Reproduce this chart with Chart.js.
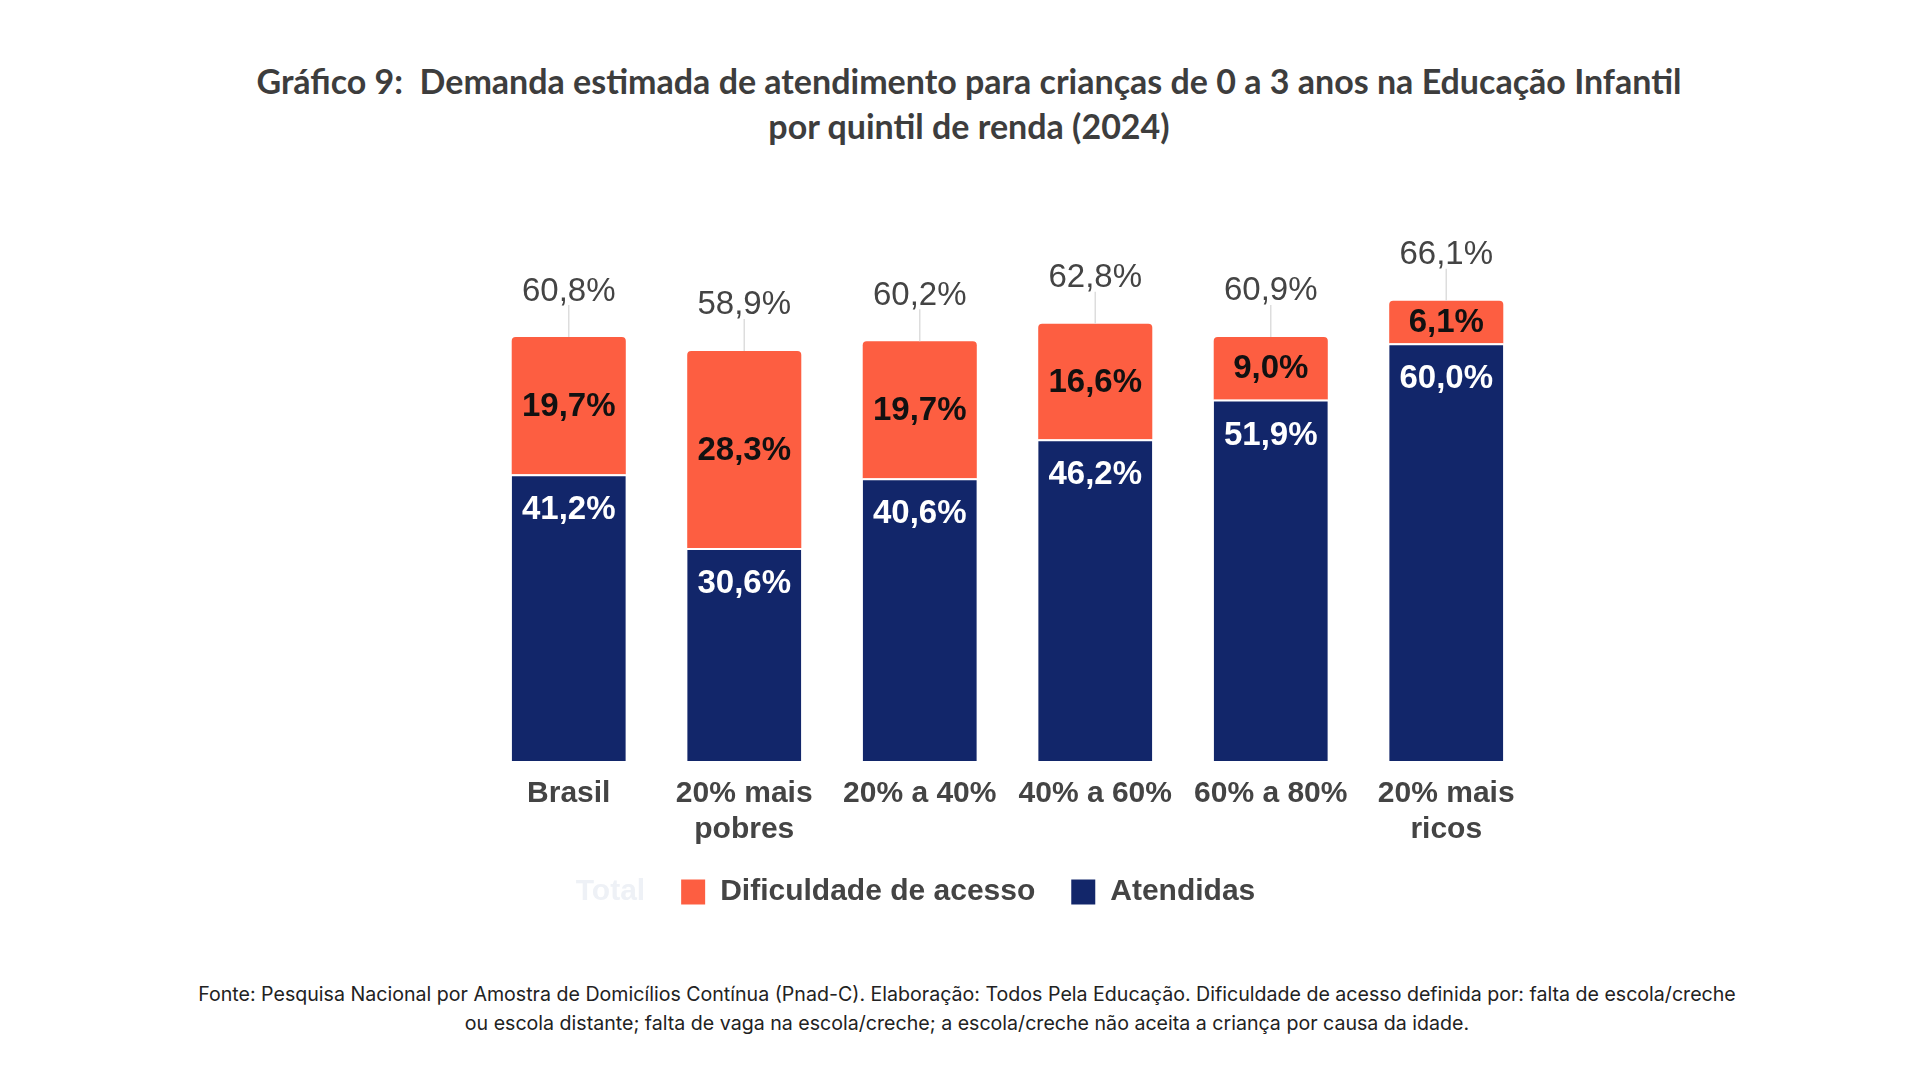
<!DOCTYPE html>
<html lang="pt-BR">
<head>
<meta charset="utf-8">
<title>Gráfico 9</title>
<script src="https://cdn.jsdelivr.net/npm/chart.js@4.4.1/dist/chart.umd.min.js"></script>
<style>
    html, body { margin: 0; padding: 0; background: #fff; }
    body { width: 1920px; height: 1080px; position: relative; overflow: hidden; }
    #titulo {
        position: absolute; left: 9px; top: 58px; width: 1920px;
        text-align: center; font-family: Lato, "Open Sans", sans-serif;
        font-weight: bold; font-size: 34px; line-height: 45px; color: #3d3d3d;
    }
    #caixa { position: absolute; left: 258px; top: 150px; width: 1276px; height: 781px; }
    #fonte {
        position: absolute; left: 7px; top: 980px; width: 1920px;
        text-align: center; font-family: Inter, "Open Sans", sans-serif;
        font-size: 19.6px; line-height: 29px; color: #222;
    }
</style>
</head>
<body>
<div id="titulo">Gráfico 9:&nbsp; Demanda estimada de atendimento para crianças de 0 a 3 anos na Educação Infantil<br>por quintil de renda (2024)</div>
<div id="caixa"><canvas id="grafico"></canvas></div>
<div id="fonte">Fonte: Pesquisa Nacional por Amostra de Domicílios Contínua (Pnad-C). Elaboração: Todos Pela Educação. Dificuldade de acesso definida por: falta de escola/creche<br>ou escola distante; falta de vaga na escola/creche; a escola/creche não aceita a criança por causa da idade.</div>
<script>
var categorias = ['Brasil', ['20% mais', 'pobres'], '20% a 40%', '40% a 60%', '60% a 80%', ['20% mais', 'ricos']];
var atendidas = [41.2, 30.6, 40.6, 46.2, 51.9, 60.0];
var dificuldade = [19.7, 28.3, 19.7, 16.6, 9.0, 6.1];
var total = [60.8, 58.9, 60.2, 62.8, 60.9, 66.1];

var LARANJA = '#fd5e41';
var AZUL = '#12266a';

function pct(v) {
    return v.toFixed(1).replace('.', ',') + '%';
}

// rótulos dentro das barras e totais acima
var rotulos = {
    id: 'rotulos',
    afterLayout: function(chart) {
        // legenda um pouco mais perto do eixo
        chart.legend.top -= 14;
        chart.legend.bottom -= 14;
    },
    afterDatasetsDraw: function(chart) {
        var ctx = chart.ctx;
        ctx.save();
        ctx.textAlign = 'center';
        ctx.textBaseline = 'middle';

        chart.getDatasetMeta(0).data.forEach(function(bar, i) {
            ctx.font = 'bold 33px "Liberation Sans", Arial, sans-serif';
            ctx.fillStyle = '#ffffff';
            ctx.fillText(pct(atendidas[i]), bar.x, bar.y + 36);
        });
        chart.getDatasetMeta(1).data.forEach(function(bar, i) {
            ctx.font = 'bold 33px "Liberation Sans", Arial, sans-serif';
            ctx.fillStyle = '#111111';
            ctx.fillText(pct(dificuldade[i]), bar.x, (bar.y + bar.base) / 2 + 1);
        });
        chart.getDatasetMeta(2).data.forEach(function(pt, i) {
            var topo = chart.getDatasetMeta(1).data[i].y;
            ctx.strokeStyle = '#dddddd';
            ctx.lineWidth = 1.5;
            ctx.beginPath();
            ctx.moveTo(pt.x, topo);
            ctx.lineTo(pt.x, topo - 32);
            ctx.stroke();
            ctx.font = '33px "Liberation Sans", Arial, sans-serif';
            ctx.fillStyle = '#444444';
            ctx.fillText(pct(total[i]), pt.x, pt.y - 46);
        });
        ctx.restore();
    }
};

var ctx = document.getElementById('grafico').getContext('2d');
var chart = new Chart(ctx, {
    type: 'bar',
    data: {
        labels: categorias,
        datasets: [{
            label: 'Atendidas',
            data: atendidas,
            backgroundColor: AZUL,
            borderColor: '#ffffff',
            borderWidth: { top: 2, left: 0, right: 0, bottom: 0 },
            borderSkipped: false,
            categoryPercentage: 1,
            barPercentage: 0.65
        }, {
            label: 'Dificuldade de acesso',
            data: dificuldade,
            backgroundColor: LARANJA,
            borderWidth: 0,
            borderRadius: { topLeft: 4, topRight: 4, bottomLeft: 0, bottomRight: 0 },
            borderSkipped: false,
            categoryPercentage: 1,
            barPercentage: 0.65
        }, {
            type: 'line',
            label: 'Total',
            data: total,
            showLine: false,
            pointRadius: 0,
            backgroundColor: 'rgba(0,0,0,0)',
            borderColor: 'rgba(0,0,0,0)',
            stack: 'total'
        }]
    },
    options: {
        responsive: true,
        maintainAspectRatio: false,
        animation: false,
        layout: { padding: 0 },
        scales: {
            x: {
                stacked: true,
                grid: { display: false },
                border: { display: false },
                ticks: {
                    color: '#444444',
                    padding: 7,
                    font: { family: '"Liberation Sans", Arial, sans-serif', size: 30, weight: 'bold' }
                }
            },
            y: {
                stacked: true,
                min: 0,
                max: 87.75,
                grid: { display: false },
                border: { display: false },
                ticks: { display: false },
                // espaço vazio à esquerda das barras
                afterFit: function(scale) { scale.width = 223; }
            }
        },
        plugins: {
            tooltip: { enabled: false },
            legend: {
                position: 'bottom',
                reverse: true,
                labels: {
                    boxWidth: 24,
                    boxHeight: 25,
                    padding: 36,
                    color: '#444444',
                    font: { family: '"Liberation Sans", Arial, sans-serif', size: 30, weight: 'bold' },
                    generateLabels: function(chart) {
                        var itens = Chart.defaults.plugins.legend.labels.generateLabels(chart);
                        itens.forEach(function(it) {
                            it.lineWidth = 0;
                            if (it.text === 'Total') {
                                it.fontColor = '#eef1f6';
                                it.fillStyle = 'rgba(0,0,0,0)';
                            }
                        });
                        return itens;
                    }
                }
            }
        }
    },
    plugins: [rotulos]
});
</script>
</body>
</html>
